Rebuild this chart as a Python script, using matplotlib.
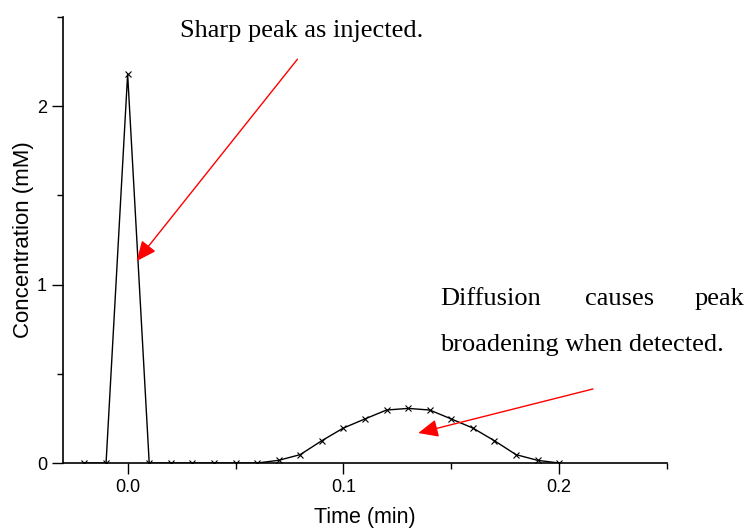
import numpy as np
import matplotlib.pyplot as plt
from matplotlib.ticker import MultipleLocator

# Data
time = [-0.02, -0.01, 0.0, 0.01, 0.02, 0.03, 0.04, 0.05, 0.06, 0.07, 0.08,
        0.09, 0.10, 0.11, 0.12, 0.13, 0.14, 0.15, 0.16, 0.17, 0.18, 0.19, 0.20]
conc = [0, 0, 2.18, 0, 0, 0, 0, 0, 0, 0.015, 0.047,
        0.125, 0.196, 0.247, 0.297, 0.306, 0.297, 0.247, 0.196, 0.125, 0.047, 0.015, 0]

plt.rcParams['font.family'] = ['Liberation Sans', 'DejaVu Sans']

fig = plt.figure(figsize=(7.49, 5.30), dpi=100)
ax = fig.add_axes([0.084, 0.1264, 0.8065, 0.8416])

ax.plot(time, conc, color='black', lw=1, marker='x', ms=4, mew=0.8)

ax.set_xlim(-0.03, 0.25)
ax.set_ylim(0, 2.5)
ax.xaxis.set_major_locator(MultipleLocator(0.1))
ax.xaxis.set_minor_locator(MultipleLocator(0.05))
ax.yaxis.set_major_locator(MultipleLocator(1))
ax.yaxis.set_minor_locator(MultipleLocator(0.5))
ax.xaxis.set_major_formatter(plt.FormatStrFormatter('%.1f'))
ax.tick_params(which='major', direction='out', length=8, width=1, labelsize=13)
ax.tick_params(which='minor', direction='out', length=4, width=1)
for s in ['top', 'right']:
    ax.spines[s].set_visible(False)
ax.spines['left'].set_linewidth(1.2)
ax.spines['bottom'].set_linewidth(1.2)

ax.set_xlabel('Time (min)', fontsize=15.5, labelpad=8)
ax.set_ylabel('Concentration (mM)', fontsize=16, labelpad=2)

# annotations
serif = ['Liberation Serif', 'DejaVu Serif']
ax.text(0.0245, 2.42, 'Sharp peak as injected.', fontsize=19, family=serif, va='center')
ax.text(0.145, 0.92, 'Diffusion', fontsize=19, family=serif, va='center', clip_on=False)
ax.text(0.2278, 0.92, 'causes', fontsize=19, family=serif, va='center', ha='center', clip_on=False)
ax.text(0.286, 0.92, 'peak', fontsize=19, family=serif, va='center', ha='right', clip_on=False)
ax.text(0.145, 0.66, 'broadening when detected.', fontsize=19, family=serif, va='center', clip_on=False)

arrow = dict(arrowstyle='-|>,head_length=0.45,head_width=0.2', color='red', lw=1,
             mutation_scale=27, shrinkA=0, shrinkB=0)
ax.annotate('', xy=(0.0042, 1.132), xytext=(0.0787, 2.263), arrowprops=arrow)
ax.annotate('', xy=(0.1347, 0.168), xytext=(0.2157, 0.415), arrowprops=arrow,
            annotation_clip=False)

fig.savefig('out.png', dpi=100)
